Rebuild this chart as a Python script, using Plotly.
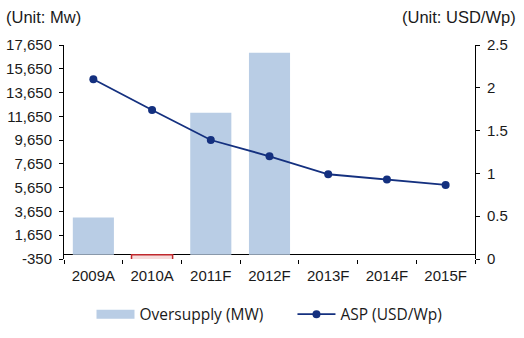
import plotly.graph_objects as go

categories = ["2009A", "2010A", "2011F", "2012F", "2013F", "2014F", "2015F"]
oversupply_mw = [3150, -500, 11950, 17000, None, None, None]
asp_usd_wp = [2.1, 1.74, 1.39, 1.2, 0.99, 0.93, 0.865]
left_ticks = [-350, 1650, 3650, 5650, 7650, 9650, 11650, 13650, 15650, 17650]
right_ticks = [0, 0.5, 1, 1.5, 2, 2.5]
series_names = ["Oversupply (MW)", "ASP (USD/Wp)"]

BAR_BLUE = "#B9CDE5"
NAVY = "#14307F"

bar_fill = [BAR_BLUE if (v is not None and v >= 0) else "#F6DCDC" for v in oversupply_mw]
bar_line_col = [BAR_BLUE if (v is not None and v >= 0) else "#C0282D" for v in oversupply_mw]
bar_line_w = [0 if (v is not None and v >= 0) else 1.5 for v in oversupply_mw]

fig = go.Figure()
fig.add_trace(go.Bar(
    x=categories, y=oversupply_mw, name=series_names[0],
    marker=dict(color=bar_fill, line=dict(color=bar_line_col, width=bar_line_w)),
    yaxis="y", showlegend=False,
))
# legend-only entry giving the wide rectangular swatch of the bar series
fig.add_trace(go.Scatter(
    x=[None], y=[None], name=series_names[0] + "\u00a0" * 6, mode="lines",
    line=dict(color=BAR_BLUE, width=9), yaxis="y", showlegend=True,
))
fig.add_trace(go.Scatter(
    x=categories, y=asp_usd_wp, name=series_names[1], mode="lines+markers",
    line=dict(color=NAVY, width=1.8),
    marker=dict(color=NAVY, size=8),
    yaxis="y2",
))

font_tick = dict(family="Liberation Sans, Arial, sans-serif", size=15, color="#1a1a1a")
font_unit = dict(family="Liberation Sans, Arial, sans-serif", size=16.5, color="#1a1a1a")

fig.update_layout(
    width=524, height=338,
    margin=dict(l=64, r=49, t=45, b=79, autoexpand=False),
    paper_bgcolor="white", plot_bgcolor="white",
    bargap=0.3,
    showlegend=True,
    legend=dict(orientation="h", x=0.5, xanchor="center", y=-0.26, yanchor="middle",
                font=dict(family="Open Sans, sans-serif", size=15.5, color="#1a1a1a"),
                itemwidth=38, traceorder="normal"),
    xaxis=dict(type="category", showline=False, showgrid=False, ticks="outside",
               tickson="boundaries", ticklen=4, tickcolor="black",
               tickfont=font_tick, range=[-0.5, 6.5], ticklabelstandoff=6),
    yaxis=dict(range=[-350, 17650], tickvals=left_ticks,
               ticktext=[f"{v:,}" for v in left_ticks],
               showline=True, linecolor="black", linewidth=1,
               ticks="outside", ticklen=4, tickcolor="black",
               showgrid=False, zeroline=True, zerolinecolor="black", zerolinewidth=1,
               tickfont=font_tick, ticklabelstandoff=4),
    yaxis2=dict(range=[0, 2.5], tickvals=right_ticks,
                ticktext=["0", "0.5", "1", "1.5", "2", "2.5"],
                overlaying="y", side="right",
                showline=True, linecolor="black", linewidth=1,
                ticks="outside", ticklen=4, tickcolor="black",
                showgrid=False, zeroline=False, tickfont=font_tick,
                ticklabelstandoff=4),
    annotations=[
        dict(text="(Unit: Mw)", xref="paper", yref="paper", x=-0.145, y=1.13,
             xanchor="left", yanchor="middle", showarrow=False, font=font_unit),
        dict(text="(Unit: USD/Wp)", xref="paper", yref="paper", x=1.105, y=1.13,
             xanchor="right", yanchor="middle", showarrow=False, font=font_unit),
    ],
)

fig.write_html("out.html")
